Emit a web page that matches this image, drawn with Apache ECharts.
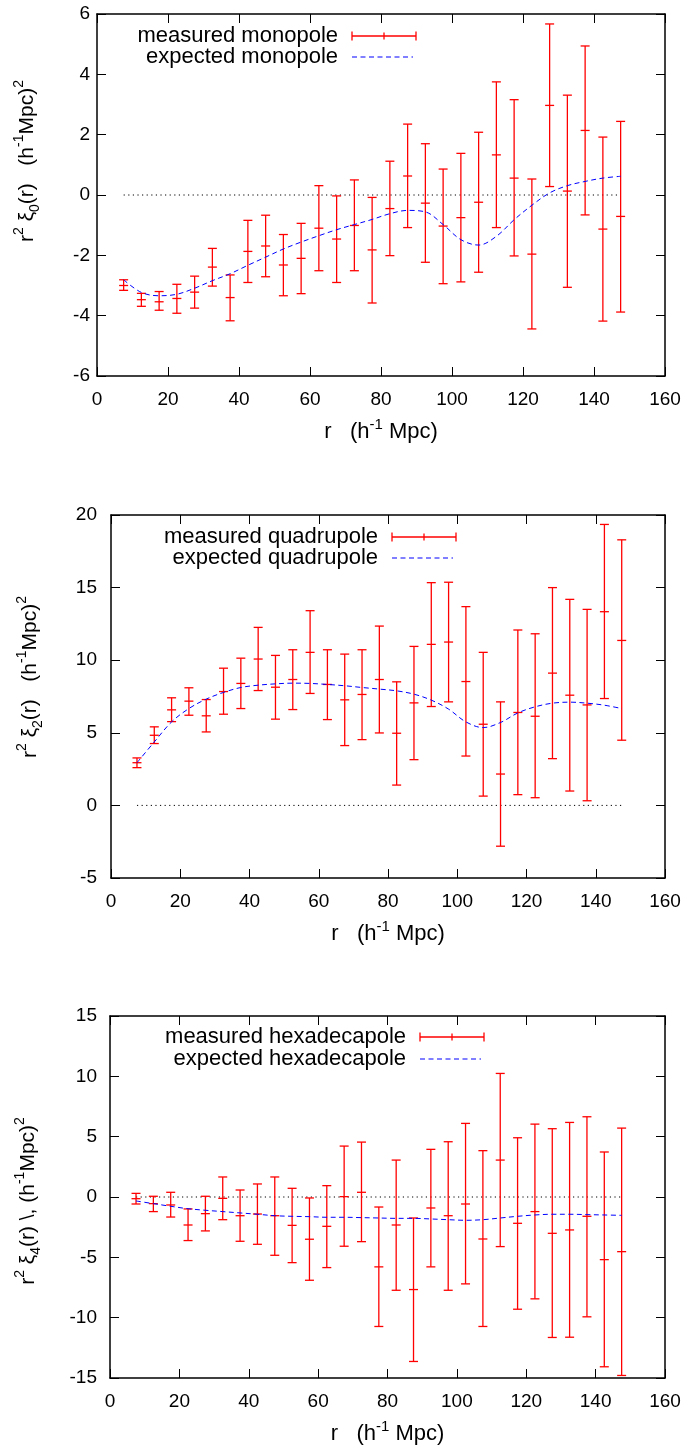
<!DOCTYPE html>
<html><head><meta charset="utf-8">
<script src="https://cdn.jsdelivr.net/npm/echarts@6/dist/echarts.min.js"></script>
<style>html,body{margin:0;padding:0;background:#fff}#c{width:691px;height:1454px}</style>
</head><body><div id="c"></div>
<script>
// ---------- data ----------
const r = [7.5,12.5,17.5,22.5,27.5,32.5,37.5,42.5,47.5,52.5,57.5,62.5,67.5,72.5,77.5,82.5,87.5,92.5,97.5,102.5,107.5,112.5,117.5,122.5,127.5,132.5,137.5,142.5,147.5];
const xTicks = {min: 0, max: 160, interval: 20};

const monoVal = [-3.00,-3.47,-3.54,-3.43,-3.22,-2.39,-3.40,-1.87,-1.69,-2.32,-2.10,-1.10,-1.46,-1.01,-1.82,-0.45,0.63,-0.27,-1.03,-0.75,-0.24,1.33,0.56,-1.96,2.97,0.13,2.14,-1.13,-0.71];
const monoHi  = [-2.81,-3.26,-3.20,-2.96,-2.69,-1.77,-2.65,-0.84,-0.67,-1.31,-0.94,0.31,-0.03,0.50,-0.08,1.12,2.35,1.70,0.86,1.38,2.08,3.75,3.16,0.53,5.67,3.31,4.94,1.92,2.44];
const monoLo  = [-3.16,-3.69,-3.82,-3.92,-3.75,-3.02,-4.17,-2.90,-2.71,-3.34,-3.27,-2.51,-2.90,-2.51,-3.58,-2.01,-1.08,-2.23,-2.94,-2.88,-2.56,-1.08,-2.02,-4.44,0.28,-3.06,-0.66,-4.18,-3.88];
const monoExp = [-2.81,-3.23,-3.34,-3.29,-3.09,-2.84,-2.61,-2.33,-2.06,-1.79,-1.56,-1.35,-1.15,-0.98,-0.81,-0.62,-0.51,-0.56,-0.98,-1.48,-1.66,-1.37,-0.82,-0.34,0.07,0.31,0.45,0.56,0.62];

const quadVal = [2.94,4.83,6.58,7.18,6.17,7.84,8.40,10.08,8.14,8.67,10.54,8.33,7.27,7.64,8.67,4.97,7.06,11.09,11.25,8.53,5.59,2.16,6.40,6.14,9.11,7.59,6.92,13.34,11.36];
const quadHi  = [3.27,5.41,7.41,8.10,7.29,9.45,10.14,12.26,10.33,10.72,13.41,10.72,10.42,10.72,12.35,8.51,10.95,15.34,15.37,13.69,10.54,7.13,12.08,11.82,15.00,14.19,13.50,19.35,18.29];
const quadLo  = [2.60,4.26,5.77,6.21,5.06,6.28,6.67,7.91,5.94,6.60,7.71,5.91,4.12,4.53,4.99,1.40,3.15,6.81,7.13,3.40,0.64,-2.81,0.74,0.53,3.22,0.99,0.32,7.36,4.49];
const quadExp = [2.94,4.37,5.75,6.67,7.32,7.78,8.12,8.28,8.37,8.42,8.40,8.33,8.24,8.12,8.01,7.89,7.66,7.25,6.63,5.75,5.36,5.71,6.37,6.79,7.04,7.11,7.04,6.90,6.67];

const hexaVal = [-0.14,-0.55,-0.66,-2.32,-1.38,-0.11,-1.55,-1.41,-1.55,-2.35,-3.50,-2.43,0.03,0.39,-5.79,-2.32,-7.67,-0.91,-1.55,-0.58,-3.48,3.06,-2.18,-1.21,-3.01,-2.73,-1.60,-5.19,-4.53];
const hexaHi  = [0.30,0.06,0.39,-0.99,0.06,1.66,0.58,1.08,1.66,0.72,-0.08,0.94,4.22,4.55,-0.83,3.06,-1.74,3.95,4.58,6.10,3.84,10.24,4.91,6.04,5.66,6.18,6.65,3.73,5.71];
const hexaLo  = [-0.58,-1.21,-1.66,-3.61,-2.81,-1.88,-3.67,-3.92,-4.83,-5.44,-6.90,-5.85,-4.08,-3.70,-10.73,-7.73,-13.63,-5.79,-7.73,-7.20,-10.73,-4.11,-9.30,-8.44,-11.64,-11.62,-9.93,-14.07,-14.79];
const hexaExp = [-0.33,-0.55,-0.77,-0.97,-1.10,-1.21,-1.32,-1.43,-1.55,-1.60,-1.63,-1.68,-1.68,-1.71,-1.74,-1.77,-1.77,-1.82,-1.88,-1.93,-1.88,-1.74,-1.60,-1.49,-1.43,-1.43,-1.46,-1.49,-1.52];

const zeroLine = [[7.5, 0], [147.5, 0]];

const panels = [
  {measured: 'measured monopole', expected: 'expected monopole', val: monoVal, lo: monoLo, hi: monoHi, exp: monoExp,
   yMin: -6, yMax: 6, yInt: 2},
  {measured: 'measured quadrupole', expected: 'expected quadrupole', val: quadVal, lo: quadLo, hi: quadHi, exp: quadExp,
   yMin: -5, yMax: 20, yInt: 5},
  {measured: 'measured hexadecapole', expected: 'expected hexadecapole', val: hexaVal, lo: hexaLo, hi: hexaHi, exp: hexaExp,
   yMin: -15, yMax: 15, yInt: 5}
];
const yTitles = [
  '{m|r}{sup|2}{m| ξ}{sub|0}{m|(r)   (h}{sup|-1}{m|Mpc)}{sup|2}',
  '{m|r}{sup|2}{m| ξ}{sub|2}{m|(r)   (h}{sup|-1}{m|Mpc)}{sup|2}',
  '{m|r}{sup|2}{m| ξ}{sub|4}{m|(r) \\, (h}{sup|-1}{m|Mpc)}{sup|2}'
];
const xTitle = '{m|r   (h}{sup|-1}{m| Mpc)}';

// ---------- layout / style ----------
const F = '"Liberation Sans", Arial, Helvetica, sans-serif';
const layout = [
  {left: 97, top: 14, width: 568, height: 362, labMargin: 7, yTitle: [27, 161], leg: [338, 36, 57]},
  {left: 111, top: 515, width: 554, height: 363, labMargin: 14, yTitle: [30, 677], leg: [378, 537, 558]},
  {left: 110, top: 1016, width: 555, height: 362, labMargin: 13, yTitle: [28, 1201], leg: [406, 1037, 1059]}
];
const richY = {
  m: {fontSize: 21, fontFamily: F, color: '#000', lineHeight: 30, verticalAlign: 'middle'},
  sup: {fontSize: 14, fontFamily: F, color: '#000', lineHeight: 16, verticalAlign: 'top'},
  sub: {fontSize: 14, fontFamily: F, color: '#000', lineHeight: 18, verticalAlign: 'bottom'}
};
const richX = {
  m: {fontSize: 22, fontFamily: F, color: '#000', lineHeight: 30, verticalAlign: 'middle'},
  sup: {fontSize: 15, fontFamily: F, color: '#000', lineHeight: 16, verticalAlign: 'top'}
};
const RED = '#ff0000', BLUE = '#0000ff';
const LEGFONT = '22px ' + F;

const grids = [], xAxes = [], yAxes = [], series = [], graphics = [];
const lineC = {show: true, onZero: false, lineStyle: {color: '#000', width: 1.5}};
const tickC = {show: true, inside: true, length: 9, lineStyle: {color: '#000', width: 1}};

function errRender(params, api) {
  const x = api.value(0);
  const pc = api.coord([x, api.value(1)]);
  const pl = api.coord([x, api.value(2)]);
  const ph = api.coord([x, api.value(3)]);
  const w = 4.5;
  const st = {stroke: RED, lineWidth: 1.3, fill: null};
  return {type: 'group', children: [
    {type: 'line', shape: {x1: pc[0], y1: ph[1], x2: pc[0], y2: pl[1]}, style: st},
    {type: 'line', shape: {x1: pc[0] - w, y1: ph[1], x2: pc[0] + w, y2: ph[1]}, style: st},
    {type: 'line', shape: {x1: pc[0] - w, y1: pl[1], x2: pc[0] + w, y2: pl[1]}, style: st},
    {type: 'line', shape: {x1: pc[0] - w, y1: pc[1], x2: pc[0] + w, y2: pc[1]}, style: st}
  ]};
}

panels.forEach((p, g) => {
  const L = layout[g];
  grids.push({left: L.left, top: L.top, width: L.width, height: L.height, show: false});
  xAxes.push({type: 'value', gridIndex: g, position: 'bottom', min: xTicks.min, max: xTicks.max, interval: xTicks.interval,
    axisLine: lineC, axisTick: tickC, splitLine: {show: false},
    axisLabel: {color: '#000', fontSize: 19, fontFamily: F, margin: 14},
    name: xTitle, nameLocation: 'middle', nameGap: 41, nameTextStyle: {rich: richX}});
  xAxes.push({type: 'value', gridIndex: g, position: 'top', min: xTicks.min, max: xTicks.max, interval: xTicks.interval,
    axisLine: lineC, axisTick: tickC, splitLine: {show: false}, axisLabel: {show: false}});
  yAxes.push({type: 'value', gridIndex: g, position: 'left', min: p.yMin, max: p.yMax, interval: p.yInt,
    axisLine: lineC, axisTick: tickC, splitLine: {show: false},
    axisLabel: {color: '#000', fontSize: 19, fontFamily: F, margin: L.labMargin}});
  yAxes.push({type: 'value', gridIndex: g, position: 'right', min: p.yMin, max: p.yMax, interval: p.yInt,
    axisLine: lineC, axisTick: tickC, splitLine: {show: false}, axisLabel: {show: false}});

  const xi = 2 * g, yi = 2 * g;
  series.push({type: 'line', name: 'zero' + g, xAxisIndex: xi, yAxisIndex: yi, data: zeroLine, symbol: 'none',
    lineStyle: {color: '#000', width: 1, type: [1.2, 3.4]}, silent: true, z: 1});
  series.push({type: 'custom', name: p.measured, xAxisIndex: xi, yAxisIndex: yi,
    data: r.map((x, i) => [x, p.val[i], p.lo[i], p.hi[i]]),
    encode: {x: 0, y: [1, 2, 3]}, renderItem: errRender, z: 2});
  series.push({type: 'line', name: p.expected, xAxisIndex: xi, yAxisIndex: yi,
    data: r.map((x, i) => [x, p.exp[i]]), symbol: 'none', smooth: 0.35,
    lineStyle: {color: BLUE, width: 1, type: [5, 3.5]}, z: 3});

  // y title
  graphics.push({type: 'text', x: L.yTitle[0], y: L.yTitle[1], rotation: Math.PI / 2,
    style: {text: yTitles[g], rich: richY, align: 'center', verticalAlign: 'middle'}});
  // legend (key)
  const [tx, y1, y2] = L.leg;
  const sx0 = tx + 14, sx1 = tx + 78, sxm = (sx0 + sx1) / 2;
  graphics.push({type: 'text', x: tx, y: y1, style: {text: p.measured, font: LEGFONT, fill: '#000', align: 'right', verticalAlign: 'middle'}});
  graphics.push({type: 'text', x: tx, y: y2, style: {text: p.expected, font: LEGFONT, fill: '#000', align: 'right', verticalAlign: 'middle'}});
  const ls = {stroke: RED, lineWidth: 1.3};
  graphics.push({type: 'line', shape: {x1: sx0, y1: y1, x2: sx1, y2: y1}, style: ls});
  graphics.push({type: 'line', shape: {x1: sx0, y1: y1 - 4.5, x2: sx0, y2: y1 + 4.5}, style: ls});
  graphics.push({type: 'line', shape: {x1: sx1, y1: y1 - 4.5, x2: sx1, y2: y1 + 4.5}, style: ls});
  graphics.push({type: 'line', shape: {x1: sxm, y1: y1 - 3.5, x2: sxm, y2: y1 + 3.5}, style: ls});
  graphics.push({type: 'line', shape: {x1: sx0, y1: y2, x2: sx1 - 3, y2: y2}, style: {stroke: BLUE, lineWidth: 1, lineDash: [5, 3.5]}});
});

const chart = echarts.init(document.getElementById('c'), null, {renderer: 'canvas'});
chart.setOption({
  animation: false,
  backgroundColor: '#fff',
  grid: grids, xAxis: xAxes, yAxis: yAxes, series: series, graphic: graphics
});
</script></body></html>
